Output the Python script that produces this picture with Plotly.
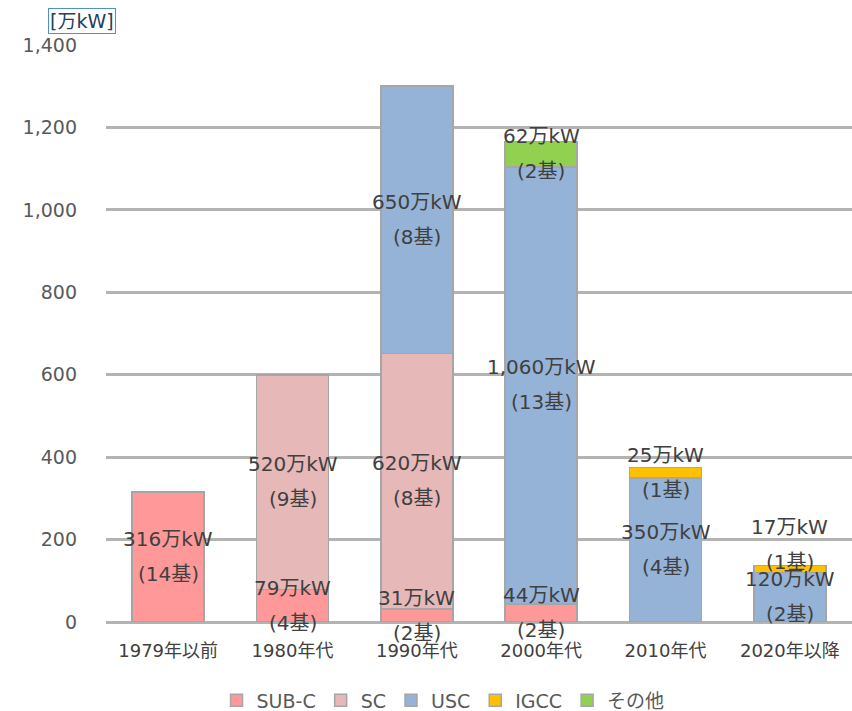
import plotly.graph_objects as go

# Coal-fired capacity by commissioning period (万kW) and unit counts (基)
periods = ["1979年以前", "1980年代", "1990年代", "2000年代", "2010年代", "2020年以降"]
series_names = ["SUB-C", "SC", "USC", "IGCC", "その他"]

sub_c_kw = [316, 79, 31, 44, None, None]
sc_kw = [None, 520, 620, None, None, None]
usc_kw = [None, None, 650, 1060, 350, 120]
igcc_kw = [None, None, None, None, 25, 17]
other_kw = [None, None, None, 62, None, None]

sub_c_units = [14, 4, 2, 2, None, None]
sc_units = [None, 9, 8, None, None, None]
usc_units = [None, None, 8, 13, 4, 2]
igcc_units = [None, None, None, None, 1, 1]
other_units = [None, None, None, 2, None, None]

y_ticks = [0, 200, 400, 600, 800, 1000, 1200, 1400]

colors = ["#FF9999", "#E6B8B7", "#95B3D7", "#FFC000", "#92D050"]
values = [sub_c_kw, sc_kw, usc_kw, igcc_kw, other_kw]
units = [sub_c_units, sc_units, usc_units, igcc_units, other_units]

FONT = "DejaVu Sans, Noto Sans CJK JP, sans-serif"
LABEL_COLOR = "#404040"

# extra upward nudge (px) for labels that sit above thin segments
label_nudge = {(3, 5): 24}

fig = go.Figure()
for name, vals, col in zip(series_names, values, colors):
    fig.add_trace(go.Bar(
        name=name, x=periods, y=[v if v is not None else 0 for v in vals],
        marker=dict(color=col, line=dict(color="#a6a6a6", width=1.5)),
        hoverinfo="skip",
    ))

annotations = []
base = [0] * len(periods)
for s, (vals, cnts) in enumerate(zip(values, units)):
    for i, v in enumerate(vals):
        if v is None:
            continue
        mid = base[i] + v / 2
        nudge = label_nudge.get((s, i), 0)
        annotations.append(dict(
            x=periods[i], y=mid, xref="x", yref="y", text=f"{v:,}万kW",
            showarrow=False, yshift=18 + nudge,
            font=dict(family=FONT, size=20, color=LABEL_COLOR)))
        annotations.append(dict(
            x=periods[i], y=mid, xref="x", yref="y", text=f"({cnts[i]}基)",
            showarrow=False, yshift=-17 + nudge,
            font=dict(family=FONT, size=20, color=LABEL_COLOR)))
        base[i] += v

# unit label at the top-left of the value axis
annotations.append(dict(
    x=-0.032, y=1.042, xref="paper", yref="paper", text="[万kW]",
    showarrow=False, xanchor="center", yanchor="middle",
    font=dict(family=FONT, size=19, color="#243f60"),
    bordercolor="#4a90d9", borderwidth=1, borderpad=1))

fig.update_layout(
    barmode="stack",
    bargap=0.42,
    width=852, height=711,
    margin=dict(l=106, r=0, t=45, b=89),
    plot_bgcolor="white", paper_bgcolor="white",
    font=dict(family=FONT, size=18, color="#595959"),
    xaxis=dict(showgrid=False, showline=False, ticks="",
               ticklabelstandoff=16,
               tickfont=dict(size=18, color="#404040")),
    yaxis=dict(range=[0, 1400], tickvals=y_ticks,
               ticktext=[f"{t:,}" for t in y_ticks],
               showgrid=True, gridcolor="#b3b3b3", gridwidth=3,
               zeroline=True, zerolinecolor="#b3b3b3", zerolinewidth=3,
               ticks="", ticklabelstandoff=28,
               tickfont=dict(size=19, color="#595959")),
    legend=dict(orientation="h", xref="container", yref="container",
                x=0.52, xanchor="center", y=0.015, yanchor="middle",
                font=dict(size=19, color="#595959"), traceorder="normal"),
    annotations=annotations,
    showlegend=True,
)

fig.write_html("out.html")
